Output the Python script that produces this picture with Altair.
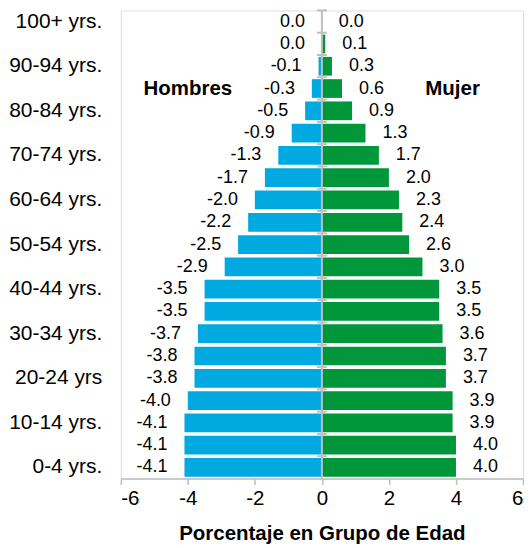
import altair as alt
import pandas as pd

ages = ["0-4", "5-9", "10-14", "15-19", "20-24", "25-29", "30-34", "35-39",
        "40-44", "45-49", "50-54", "55-59", "60-64", "65-69", "70-74", "75-79",
        "80-84", "85-89", "90-94", "95-99", "100+"]
axis_labels = ["0-4 yrs.", "", "10-14 yrs.", "", "20-24 yrs", "", "30-34 yrs.", "",
               "40-44 yrs.", "", "50-54 yrs.", "", "60-64 yrs.", "", "70-74 yrs.", "",
               "80-84 yrs.", "", "90-94 yrs.", "", "100+ yrs."]
men = [-4.1, -4.1, -4.1, -4.0, -3.8, -3.8, -3.7, -3.5, -3.5, -2.9, -2.5,
       -2.2, -2.0, -1.7, -1.3, -0.9, -0.5, -0.3, -0.1, 0.0, 0.0]
women = [4.0, 4.0, 3.9, 3.9, 3.7, 3.7, 3.6, 3.5, 3.5, 3.0, 2.6,
         2.4, 2.3, 2.0, 1.7, 1.3, 0.9, 0.6, 0.3, 0.1, 0.0]
x_ticks = [-6, -4, -2, 0, 2, 4, 6]
annot_text = ["Hombres", "Mujer"]
annot_x = [-4.0, 3.9]
annot_age = ["85-89", "85-89"]

BLUE = "#00A9E0"
GREEN = "#00973A"
GREY = "#BFBFBF"

rows = []
for a, m, w in zip(ages, men, women):
    rows.append({"age": a, "sex": "Hombres", "value": m, "label": f"{m:.1f}"})
    rows.append({"age": a, "sex": "Mujer", "value": w, "label": f"{w:.1f}"})
df = pd.DataFrame(rows)
zero_df = pd.DataFrame({"value": [0]})
tick_df = pd.DataFrame({"age": ages})
annot_df = pd.DataFrame({"age": annot_age, "value": annot_x, "text": annot_text})

order = ages[::-1]
label_expr = ("[" + ",".join(f"'{l}'" for l in axis_labels) + "][indexof(["
              + ",".join(f"'{a}'" for a in ages) + "], datum.value)]")

yscale = alt.Scale(paddingInner=0.16, paddingOuter=0.08)
yaxis = alt.Axis(title=None, domain=False, ticks=False, labelExpr=label_expr,
                 labelFontSize=21, labelPadding=19, labelAlign="right",
                 minExtent=112, maxExtent=112, labelColor="#000000", grid=False)
xscale = alt.Scale(domain=[-6, 6], nice=False)
xaxis = alt.Axis(values=x_ticks, labelExpr="'' + datum.value",
                 title="Porcentaje en Grupo de Edad", grid=False,
                 domainColor=GREY, domainWidth=1.5, tickColor=GREY, tickWidth=1.5,
                 tickSize=6, labelFontSize=20.5, labelPadding=4, labelColor="#000000",
                 titleFontSize=20.5, titleFontWeight="bold", titleColor="#000000",
                 titlePadding=15)


def X(field="value:Q"):
    return alt.X(field, scale=xscale, axis=xaxis, stack=None)


def Y(**kw):
    return alt.Y("age:N", sort=order, scale=yscale, axis=yaxis, **kw)


bars = alt.Chart(df).mark_bar().encode(
    x=X(), y=Y(),
    color=alt.Color("sex:N", scale=alt.Scale(domain=["Hombres", "Mujer"], range=[BLUE, GREEN]),
                    legend=None),
)

men_labels = alt.Chart(df).transform_filter("datum.sex == 'Hombres'").mark_text(
    align="right", baseline="middle", dx=-17, fontSize=18, color="#000000"
).encode(x=X(), y=Y(), text="label:N")

women_labels = alt.Chart(df).transform_filter("datum.sex == 'Mujer'").mark_text(
    align="left", baseline="middle", dx=17, fontSize=18, color="#000000"
).encode(x=X(), y=Y(), text="label:N")

zero_line = alt.Chart(zero_df).mark_rule(color=GREY, strokeWidth=2).encode(x=X())

boundary_ticks = alt.Chart(tick_df).mark_rule(color=GREY, strokeWidth=2, yOffset=-1.9).encode(
    y=Y(bandPosition=0),
    x=alt.datum(-0.15, scale=xscale, axis=xaxis),
    x2=alt.datum(0.15),
)

annots = alt.Chart(annot_df).mark_text(
    align="center", baseline="middle", fontSize=20.5, fontWeight="bold", color="#000000"
).encode(x=X(), y=Y(), text="text:N")

chart = alt.layer(bars, zero_line, boundary_ticks, men_labels, women_labels, annots).properties(
    width=403, height=469,
    padding={"left": 0, "top": 0, "right": 0, "bottom": 0},
).configure_view(stroke=None).configure(font="Liberation Sans")

chart.save("out.html", embed_options={"renderer": "svg", "actions": False})
